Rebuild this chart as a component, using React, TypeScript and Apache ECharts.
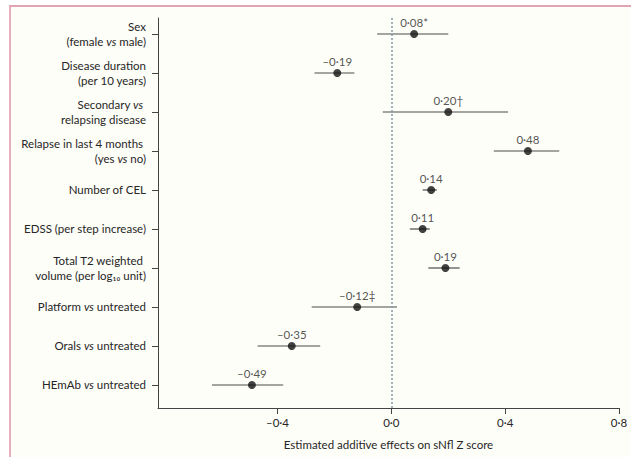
import React, { useEffect, useRef } from "react";
import * as echarts from "echarts";

const categories = [
  "Sex\n(female vs male)",
  "Disease duration\n(per 10 years)",
  "Secondary vs \nrelapsing disease",
  "Relapse in last 4 months \n(yes vs no)",
  "Number of CEL",
  "EDSS (per step increase)",
  "Total T2 weighted \nvolume (per log₁₀ unit)",
  "Platform vs untreated",
  "Orals vs untreated",
  "HEmAb vs untreated",
];
const estimates = [0.08, -0.19, 0.2, 0.48, 0.14, 0.11, 0.19, -0.12, -0.35, -0.49];
const lower = [-0.05, -0.27, -0.03, 0.36, 0.11, 0.065, 0.13, -0.28, -0.47, -0.63];
const upper = [0.2, -0.13, 0.41, 0.59, 0.16, 0.135, 0.24, 0.02, -0.25, -0.38];
const pointLabels = ["0·08*", "–0·19", "0·20†", "0·48", "0·14", "0·11", "0·19", "–0·12‡", "–0·35", "–0·49"];
const xTicks = [-0.4, 0, 0.4, 0.8];
const xTitle = "Estimated additive effects on sNfl Z score";

const FONT = "Lato, 'Open Sans', sans-serif";
const FS = 11.5;
const TXT = "#262626";

function toRich(s: string) {
  return s
    .split("\n")
    .map((line) =>
      line
        .split(/(vs)/)
        .filter((p) => p.length > 0)
        .map((p) => (p === "vs" ? "{i|vs}" : "{t|" + p + "}"))
        .join("")
    )
    .join("\n");
}

export default function App() {
  const ref = useRef<HTMLDivElement>(null);
  useEffect(() => {
    if (!ref.current) return;
    const chart = echarts.init(ref.current, undefined, { renderer: "svg" });
    const idx = categories.map((_, i) => i);
    chart.setOption({
      animation: false,
      backgroundColor: "#ffffff",
      textStyle: { fontFamily: FONT },
      graphic: [
        { type: "rect", shape: { x: 10, y: 6, width: 640, height: 470 }, style: { fill: "#fefef9" }, silent: true, z: -10 },
        { type: "line", shape: { x1: 9, y1: 6, x2: 640, y2: 6 }, style: { stroke: "#d8869a", lineWidth: 1.5 }, silent: true },
        { type: "line", shape: { x1: 10, y1: 6, x2: 10, y2: 470 }, style: { stroke: "#e9aebd", lineWidth: 2 }, silent: true },
      ],
      grid: { left: 158, right: 12, top: 18, bottom: 49 },
      xAxis: {
        type: "value",
        min: -0.82,
        max: 0.8,
        splitLine: { show: false },
        axisLine: { onZero: false, lineStyle: { color: "#444", width: 1 } },
        axisTick: { customValues: xTicks, length: 6, lineStyle: { color: "#444" } },
        axisLabel: {
          customValues: xTicks,
          color: TXT,
          fontSize: FS,
          fontFamily: FONT,
          margin: 8,
          formatter: (v: number) => (v < 0 ? "–" : "") + Math.abs(v).toFixed(1).replace(".", "·"),
        },
        name: xTitle,
        nameLocation: "middle",
        nameGap: 30,
        nameTextStyle: { color: TXT, fontSize: FS, fontFamily: FONT },
      },
      yAxis: {
        type: "value",
        inverse: true,
        min: -0.41,
        max: 9.59,
        splitLine: { show: false },
        axisLine: { show: true, onZero: false, lineStyle: { color: "#444", width: 1 } },
        axisTick: { show: true, customValues: idx, length: 6, lineStyle: { color: "#444" } },
        axisLabel: {
          customValues: idx,
          color: TXT,
          fontSize: FS,
          fontFamily: FONT,
          lineHeight: 15,
          align: "right",
          margin: 12,
          formatter: (v: number) => toRich(categories[Math.round(v)] || ""),
          rich: {
            t: { fontSize: FS, lineHeight: 15, color: TXT, fontFamily: FONT },
            i: { fontStyle: "italic", fontSize: FS, lineHeight: 15, color: TXT, fontFamily: FONT },
          },
        },
      },
      series: [
        {
          type: "custom",
          data: idx.map((i) => [lower[i], upper[i], i]),
          renderItem: (_p: any, api: any) => {
            const a = api.coord([api.value(0), api.value(2)]);
            const b = api.coord([api.value(1), api.value(2)]);
            return {
              type: "line",
              shape: { x1: a[0], y1: a[1], x2: b[0], y2: b[1] },
              style: { stroke: "#4a4a4a", lineWidth: 1.2 },
            };
          },
          z: 2,
        },
        {
          type: "scatter",
          data: idx.map((i) => [estimates[i], i]),
          symbol: "circle",
          symbolSize: 8,
          itemStyle: { color: "#111" },
          label: {
            show: true,
            position: "top",
            distance: 1,
            color: TXT,
            fontSize: FS,
            fontFamily: FONT,
            formatter: (p: any) => pointLabels[p.dataIndex],
          },
          z: 3,
          markLine: {
            silent: true,
            symbol: "none",
            label: { show: false },
            lineStyle: { color: "#8797aa", type: [2, 2], width: 1.5 },
            data: [{ xAxis: 0 }],
          },
        },
      ],
    });
    return () => chart.dispose();
  }, []);
  return <div ref={ref} style={{ position: "fixed", left: 0, top: 0, width: 631, height: 457 }} />;
}
